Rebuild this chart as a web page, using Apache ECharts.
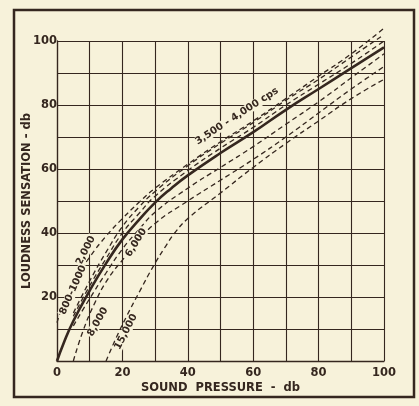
<!DOCTYPE html>
<html><head><meta charset="utf-8">
<script src="https://cdn.jsdelivr.net/npm/echarts/dist/echarts.min.js"></script>
<style>html,body{margin:0;padding:0;background:#f7f2da;} #c{width:419px;height:406px;}</style>
</head><body><div id="c"></div>
<script>
const xTickLabels = [0, 20, 40, 60, 80, 100];
const yTickLabels = [20, 40, 60, 80, 100];

// [sound pressure db, loudness sensation db]
const curve800_1000 = [[0,0],[2,5.5],[5,12.5],[10,22],[15,30.5],[20,38],[25,44],[30,49.5],[35,54],[40,58],[50,65],[60,71.5],[70,78.5],[80,85],[90,91.5],[100,98]];
const curve2000 = [[0,12],[2,18],[5,25],[10,32.5],[15,39],[20,44.5],[25,49.5],[30,54],[40,61.5],[50,68.5],[60,75],[70,82],[80,89],[90,96],[100,104]];
const curve3500 = [[5,14],[10,23.5],[15,32],[20,40],[25,46],[30,51.5],[40,59.5],[50,66.5],[60,73],[70,80],[80,86.5],[90,93],[100,100]];
const curve4000 = [[5,15],[10,25],[15,34],[20,42],[25,48],[30,53],[40,61],[50,68],[60,74.5],[70,81.5],[80,88],[90,95],[100,102]];
const curve6000 = [[5,11],[10,19.5],[15,27.5],[20,35],[25,41],[30,46.5],[40,54],[50,60.5],[60,67],[70,74],[80,81],[90,88.5],[100,96]];
const curve8000 = [[5,0],[8,9.5],[11.5,18],[15.5,25.5],[20,31.5],[25,37.5],[30,43],[40,50],[50,56.5],[60,63],[70,70],[80,77.5],[90,85],[100,92]];
const curve15000 = [[15,0],[18,7],[21.3,14],[25.4,22],[29.4,29.5],[33,35.5],[36,40],[40,44.5],[50,52.5],[60,60.5],[70,68],[80,75],[90,82],[100,88]];

const curveLabels = [
  {text: '3,500 - 4,000 cps', at: [55, 76.5], angle: 33},
  {text: '2,000', at: [8.8, 34.5], angle: 63},
  {text: '800-1000', at: [4.9, 22.2], angle: 66},
  {text: '6,000', at: [24.2, 37.0], angle: 58},
  {text: '8,000', at: [12.5, 12.2], angle: 60},
  {text: '15,000', at: [21.1, 9.1], angle: 63}
];

const ink = '#35271f';
const font = 'DejaVu Sans';
const chart = echarts.init(document.getElementById('c'));

function dashed(data) {
  return {type: 'line', data: data, showSymbol: false, smooth: true, clip: false,
    lineStyle: {color: ink, width: 1.3, type: [5, 3.5]}};
}

chart.setOption({
  backgroundColor: '#f7f2da',
  animation: false,
  grid: {left: 57, right: 35, top: 41, bottom: 45},
  xAxis: {
    type: 'value', min: 0, max: 100, interval: 10,
    name: 'SOUND  PRESSURE  -  db', nameLocation: 'middle', nameGap: 21, nameMoveOverlap: false,
    nameTextStyle: {color: ink, fontFamily: font, fontSize: 11.5, fontWeight: 'bold'},
    axisLine: {lineStyle: {color: ink, width: 1.3}},
    axisTick: {show: false},
    splitLine: {show: true, lineStyle: {color: ink, width: 1.1}},
    axisLabel: {margin: 6, color: ink, fontFamily: font, fontSize: 11.5, fontWeight: 'bold',
      formatter: v => xTickLabels.indexOf(v) >= 0 ? String(v) : ''}
  },
  yAxis: {
    type: 'value', min: 0, max: 100, interval: 10,
    name: 'LOUDNESS SENSATION - db', nameLocation: 'middle', nameGap: 24, nameRotate: 90, nameMoveOverlap: false,
    nameTextStyle: {color: ink, fontFamily: font, fontSize: 11.5, fontWeight: 'bold'},
    axisLine: {show: true, lineStyle: {color: ink, width: 1.3}},
    axisTick: {show: false},
    splitLine: {show: true, lineStyle: {color: ink, width: 1.1}},
    axisLabel: {margin: 0, color: ink, fontFamily: font, fontSize: 11.5, fontWeight: 'bold',
      formatter: v => yTickLabels.indexOf(v) >= 0 ? String(v) : ''}
  },
  series: [
    {type: 'line', data: curve800_1000, showSymbol: false, smooth: true, clip: false,
      lineStyle: {color: ink, width: 2.6}, z: 5},
    dashed(curve2000), dashed(curve3500), dashed(curve4000),
    dashed(curve6000), dashed(curve8000), dashed(curve15000)
  ]
});

const graphics = [{type: 'rect', shape: {x: 14, y: 10, width: 400, height: 387},
  style: {fill: 'none', stroke: ink, lineWidth: 2.5}, z: 100}];
curveLabels.forEach(l => {
  const p = chart.convertToPixel({gridIndex: 0}, l.at);
  graphics.push({type: 'text', x: p[0], y: p[1], rotation: l.angle * Math.PI / 180, z: 100,
    style: {text: l.text, fill: ink, font: 'bold 10px "DejaVu Sans"', align: 'center', verticalAlign: 'middle',
      backgroundColor: '#f7f2da', padding: [0, 1]}});
});
chart.setOption({graphic: graphics});
</script></body></html>
